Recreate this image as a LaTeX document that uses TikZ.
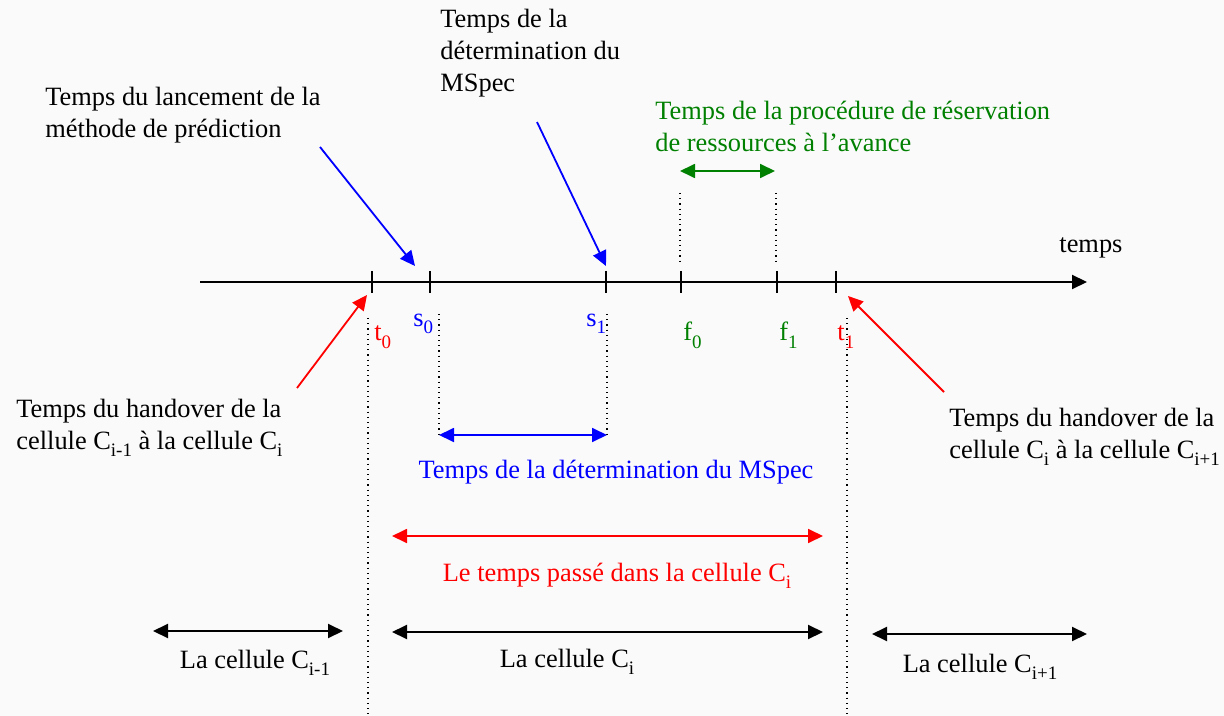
\documentclass[tikz,border=0pt]{standalone}
\usepackage{fontspec}
\setmainfont{Liberation Serif}
\usetikzlibrary{arrows.meta, positioning}
\definecolor{bleu}{RGB}{0,0,255}
\definecolor{rouge}{RGB}{255,0,0}
\definecolor{vert}{RGB}{0,128,0}
\definecolor{fond}{RGB}{250,250,250}
\newcommand{\indice}[1]{\raisebox{-3.5pt}{\fontsize{9.5}{10}\selectfont #1}}

\begin{document}
\begin{tikzpicture}[
    x=0.5pt, y=-0.5pt,
    >={Triangle[length=7.5pt, width=7pt]},
    every node/.style={font=\fontsize{13.2}{16}\selectfont, inner sep=0pt},
    txt/.style={anchor=base west, align=left},
    lbl/.style={anchor=base west},
    axe/.style={->, line width=1pt},
    marque/.style={line width=1pt},
    pointille/.style={dotted, line width=0.6pt},
    duree/.style={<->, line width=1pt},
    fleche/.style={->, line width=0.9pt}
]

% fond et cadre
\fill[fond] (0,0) rectangle (1224,716);
\useasboundingbox (0,0) rectangle (1224,716);

% 1. Axe du temps
\coordinate (debut) at (200,282);
\coordinate (fin) at (1087,282);
\draw[axe] (debut) -- (fin);
\node[lbl] (temps) at (1059,253) {temps};

\foreach \nom/\x in {t0/372, s0/430, s1/606, f0/681, f1/777, t1/836} {
    \coordinate (\nom) at (\x,282);
    \draw[marque] ([yshift=5.5pt]\nom) -- ([yshift=-5.5pt]\nom);
}

% 2. Etiquettes des instants
\node[lbl, text=rouge] (lt0) at (374,341) {t\indice{0}};
\node[lbl, text=bleu] (ls0) at (413,327) {s\indice{0}};
\node[lbl, text=bleu] (ls1) at (586,327) {s\indice{1}};
\node[lbl, text=vert] (lf0) at (683,341) {f\indice{0}};
\node[lbl, text=vert] (lf1) at (779,341) {f\indice{1}};
\node[lbl, text=rouge] (lt1) at (837,341) {t\indice{1}};

% 3. Textes explicatifs (ancre = ligne de base de la derniere ligne)
\node[txt] (lancement) at (45,138) {Temps du lancement de la\\méthode de prédiction};
\node[txt] (determ) at (440,92) {Temps de la\\détermination du\\MSpec};
\node[txt, text=vert] (reserv) at (655,152) {Temps de la procédure de réservation\\de ressources à l’avance};
\node[txt] (hoA) at (16,449) {Temps du handover de la\\cellule C\indice{i-1} à la cellule C\indice{i}};
\node[txt] (hoB) at (949,458) {Temps du handover de la\\cellule C\indice{i} à la cellule C\indice{i+1}};

% 4. Fleches vers l'axe
\coordinate (lanc_a) at (320,147);
\coordinate (lanc_b) at (415,266);
\draw[fleche, bleu] (lanc_a) -- (lanc_b);
\coordinate (det_a) at (537,122);
\coordinate (det_b) at (606,266);
\draw[fleche, bleu] (det_a) -- (det_b);
\coordinate (hoA_a) at (297,388);
\coordinate (hoA_b) at (367,295);
\draw[fleche, rouge] (hoA_a) -- (hoA_b);
\coordinate (hoB_a) at (944,392);
\coordinate (hoB_b) at (848,296);
\draw[fleche, rouge] (hoB_a) -- (hoB_b);

% 5. Lignes pointillees
\coordinate (f0haut) at (680,193);
\coordinate (f1haut) at (776,193);
\draw[pointille] (f0haut) -- (680,263);
\draw[pointille] (f1haut) -- (776,263);
\coordinate (s0bas) at (439,435);
\coordinate (s1bas) at (607,435);
\draw[pointille] (439,314) -- (s0bas);
\draw[pointille] (607,314) -- (s1bas);
\draw[pointille] (368,318) coordinate (t0haut) -- (368,716) coordinate (t0bas);
\draw[pointille] (847,318) coordinate (t1haut) -- (847,716) coordinate (t1bas);

% 6. Durees
\draw[duree, vert, line width=0.9pt] (680,171) coordinate (ga) -- (775,171) coordinate (gb);
\draw[duree, bleu, line width=0.9pt] (s0bas) -- (s1bas);
\node[anchor=base, text=bleu] (ldet) at (616,478) {Temps de la détermination du MSpec};
\draw[duree, rouge, line width=0.9pt] (392,536) coordinate (ra) -- (823,536) coordinate (rb);
\node[anchor=base, text=rouge] (lpasse) at (617,581) {Le temps passé dans la cellule C\indice{i}};

% 7. Cellules
\draw[duree] (153,631) coordinate (ca) -- (343,631) coordinate (cb);
\node[anchor=base] (cel1) at (255,668) {La cellule C\indice{i-1}};
\draw[duree] (392,632) coordinate (cc) -- (823,632) coordinate (cd);
\node[anchor=base] (cel2) at (567,667) {La cellule C\indice{i}};
\draw[duree] (872,634) coordinate (ce) -- (1087,634) coordinate (cf);
\node[anchor=base] (cel3) at (980,672) {La cellule C\indice{i+1}};

\end{tikzpicture}
\end{document}
